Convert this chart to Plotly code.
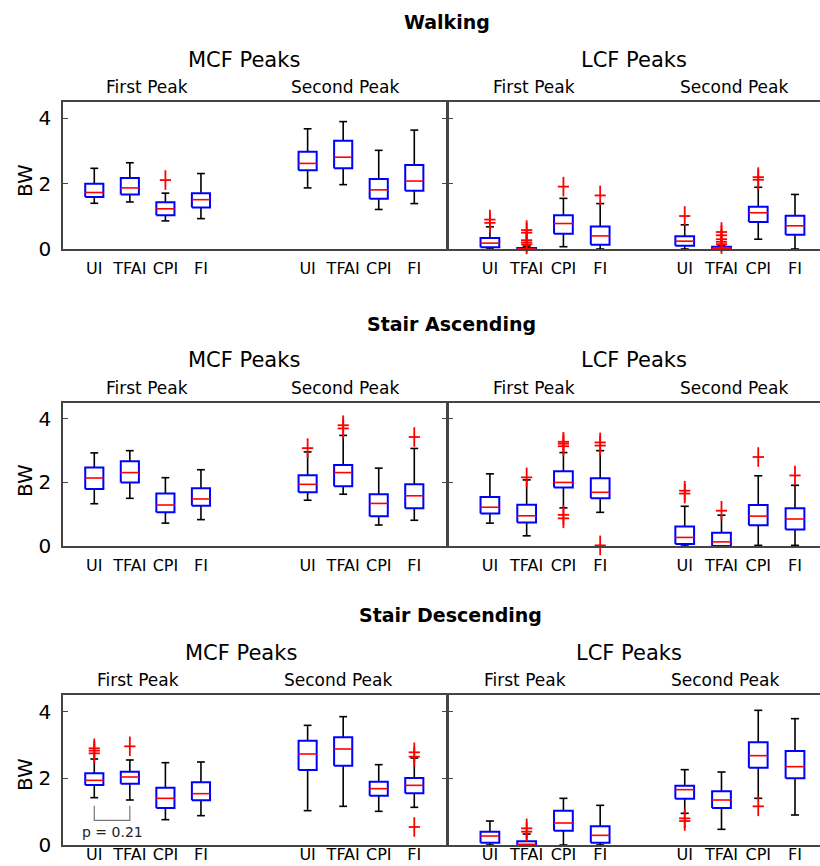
import plotly.graph_objects as go

CATEGORIES = ["UI", "TFAI", "CPI", "FI"]
Y_TICKS = [0, 2, 4]
ACTIVITIES = ["Walking", "Stair Ascending", "Stair Descending"]
FORCES = ["MCF Peaks", "LCF Peaks"]
PEAKS = ["First Peak", "Second Peak"]

# per category (UI, TFAI, CPI, FI): [lower whisker, Q1, median, Q3, upper whisker]  (BW)
walking_mcf_first = [[1.40, 1.59, 1.73, 2.00, 2.47], [1.44, 1.67, 1.87, 2.17, 2.64],
                     [0.86, 1.03, 1.23, 1.43, 1.71], [0.93, 1.27, 1.51, 1.71, 2.31]]
walking_mcf_first_out = [[], [], [2.11], []]
walking_mcf_second = [[1.87, 2.41, 2.62, 2.98, 3.68], [1.97, 2.47, 2.81, 3.31, 3.90],
                      [1.21, 1.54, 1.81, 2.14, 3.02], [1.39, 1.78, 2.08, 2.57, 3.64]]
walking_mcf_second_out = [[], [], [], []]
walking_lcf_first = [[0.00, 0.05, 0.18, 0.34, 0.68], [0.00, 0.00, 0.01, 0.03, 0.09],
                     [0.07, 0.47, 0.78, 1.03, 1.55], [0.00, 0.13, 0.40, 0.69, 1.39]]
walking_lcf_first_out = [[0.80, 0.90], [0.14, 0.20, 0.27, 0.50, 0.58], [1.91], [1.64]]
walking_lcf_second = [[0.00, 0.10, 0.24, 0.39, 0.74], [0.00, 0.00, 0.02, 0.07, 0.11],
                      [0.30, 0.83, 1.11, 1.29, 1.89], [0.00, 0.44, 0.71, 1.02, 1.67]]
walking_lcf_second_out = [[1.01], [0.15, 0.22, 0.30, 0.42, 0.52], [2.12, 2.20], []]

ascending_mcf_first = [[1.33, 1.79, 2.14, 2.47, 2.93], [1.50, 2.00, 2.31, 2.67, 3.00],
                       [0.72, 1.06, 1.29, 1.65, 2.15], [0.83, 1.27, 1.48, 1.82, 2.40]]
ascending_mcf_first_out = [[], [], [], []]
ascending_mcf_second = [[1.44, 1.69, 1.94, 2.23, 2.96], [1.63, 1.88, 2.31, 2.55, 3.48],
                        [0.66, 0.94, 1.34, 1.63, 2.45], [0.81, 1.19, 1.58, 1.94, 3.07]]
ascending_mcf_second_out = [[3.08], [3.70, 3.80], [], [3.43]]
ascending_lcf_first = [[0.72, 1.02, 1.22, 1.54, 2.27], [0.32, 0.74, 0.95, 1.30, 2.08],
                       [1.20, 1.84, 2.00, 2.35, 2.94], [1.06, 1.50, 1.69, 2.13, 3.00]]
ascending_lcf_first_out = [[], [2.16], [0.87, 0.98, 3.14, 3.22, 3.28], [0.02, 3.16, 3.26]]
ascending_lcf_second = [[0.00, 0.06, 0.27, 0.61, 1.25], [0.00, 0.00, 0.13, 0.42, 0.97],
                        [0.02, 0.65, 0.94, 1.29, 2.21], [0.02, 0.52, 0.85, 1.19, 1.91]]
ascending_lcf_second_out = [[1.65, 1.74], [1.11], [2.80], [2.22]]

descending_mcf_first = [[1.42, 1.80, 1.94, 2.15, 2.58], [1.35, 1.84, 2.04, 2.20, 2.55],
                        [0.76, 1.11, 1.40, 1.72, 2.47], [0.88, 1.34, 1.54, 1.88, 2.49]]
descending_mcf_first_out = [[2.75, 2.83, 2.90], [2.96], [], []]
descending_mcf_second = [[1.03, 2.25, 2.73, 3.13, 3.59], [1.16, 2.38, 2.88, 3.23, 3.85],
                         [1.01, 1.48, 1.69, 1.90, 2.41], [1.13, 1.55, 1.79, 2.01, 2.61]]
descending_mcf_second_out = [[], [], [], [0.54, 2.65, 2.78]]
descending_lcf_first = [[0.00, 0.07, 0.27, 0.40, 0.72], [0.00, 0.00, 0.02, 0.11, 0.33],
                        [0.00, 0.43, 0.66, 1.03, 1.40], [0.00, 0.07, 0.29, 0.56, 1.19]]
descending_lcf_first_out = [[], [0.40, 0.50], [], []]
descending_lcf_second = [[0.95, 1.39, 1.66, 1.78, 2.26], [0.47, 1.11, 1.35, 1.61, 2.19],
                         [1.40, 2.32, 2.68, 3.08, 4.04], [0.90, 2.00, 2.35, 2.82, 3.79]]
descending_lcf_second_out = [[0.72, 0.80], [], [1.16], []]

P_TEXT = "p = 0.21"
BRACKET_Y = [1.18, 0.74]

PANELS = [
    (0, 0, [walking_mcf_first, walking_mcf_second], [walking_mcf_first_out, walking_mcf_second_out]),
    (0, 1, [walking_lcf_first, walking_lcf_second], [walking_lcf_first_out, walking_lcf_second_out]),
    (1, 0, [ascending_mcf_first, ascending_mcf_second], [ascending_mcf_first_out, ascending_mcf_second_out]),
    (1, 1, [ascending_lcf_first, ascending_lcf_second], [ascending_lcf_first_out, ascending_lcf_second_out]),
    (2, 0, [descending_mcf_first, descending_mcf_second], [descending_mcf_first_out, descending_mcf_second_out]),
    (2, 1, [descending_lcf_first, descending_lcf_second], [descending_lcf_first_out, descending_lcf_second_out]),
]

# ---------------- layout / style ----------------
W, H = 820, 866
FONT = "DejaVu Sans"
ROW_PX = [(102, 249), (403, 546), (695, 845)]
ROW_LABEL_STANDOFF = [4, 4, -6]
COL_PX = [(63, 447), (448, 820)]
X_RANGES = [[0.12, 10.92], [-0.14, 9.98]]
GROUP_START = [[1, 7], [1, 6.3]]
HW, CAP = 0.255, 0.11
FRAME = "#444444"
BLUE, RED = "#0000FF", "#FF0000"

fig = go.Figure()


def ax_names(idx):
    return ("x" if idx == 1 else f"x{idx}"), ("y" if idx == 1 else f"y{idx}")


for n, (r, c, groups, outs) in enumerate(PANELS):
    idx = n + 1
    xa, ya = ax_names(idx)
    wx, wy, bx, by, mx, my, ox, oy, tv, tt = [], [], [], [], [], [], [], [], [], []
    for g in range(2):
        for i, (s, o) in enumerate(zip(groups[g], outs[g])):
            x = GROUP_START[c][g] + i
            lo, q1, med, q3, hi = s
            wx += [x, x, None, x, x, None, x - CAP, x + CAP, None, x - CAP, x + CAP, None]
            wy += [q3, hi, None, q1, lo, None, hi, hi, None, lo, lo, None]
            bx += [x - HW, x + HW, x + HW, x - HW, x - HW, None]
            by += [q1, q1, q3, q3, q1, None]
            mx += [x - HW, x + HW, None]
            my += [med, med, None]
            ox += [x] * len(o)
            oy += list(o)
            tv.append(x)
            tt.append(CATEGORIES[i])
    common = dict(xaxis=xa, yaxis=ya, showlegend=False, hoverinfo="skip")
    fig.add_trace(go.Scatter(x=wx, y=wy, mode="lines", line=dict(color="black", width=1.6), **common))
    fig.add_trace(go.Scatter(x=bx, y=by, mode="lines", line=dict(color=BLUE, width=2), **common))
    fig.add_trace(go.Scatter(x=mx, y=my, mode="lines", line=dict(color=RED, width=1.6), **common))
    fig.add_trace(go.Scatter(x=ox, y=oy, mode="markers", cliponaxis=False,
                             marker=dict(symbol="line-ns", size=14, line=dict(color=RED, width=1.8)), **common))
    fig.add_trace(go.Scatter(x=ox, y=oy, mode="markers", cliponaxis=False,
                             marker=dict(symbol="line-ew", size=8, line=dict(color=RED, width=1.8)), **common))

    top, bot = ROW_PX[r]
    left, right = COL_PX[c]
    xkey = "xaxis" if idx == 1 else f"xaxis{idx}"
    ykey = "yaxis" if idx == 1 else f"yaxis{idx}"
    fig.layout[xkey] = dict(domain=[left / W, right / W], range=X_RANGES[c], anchor=ya,
                            tickmode="array", tickvals=tv, ticktext=tt, ticks="",
                            showline=True, mirror=True, linecolor=FRAME, linewidth=1.5,
                            showgrid=False, zeroline=False, ticklabelstandoff=ROW_LABEL_STANDOFF[r],
                            automargin=False,
                            tickfont=dict(family=FONT, size=16, color="black"))
    fig.layout[ykey] = dict(domain=[1 - bot / H, 1 - top / H], range=[0, 4.5], anchor=xa,
                            tickmode="array", tickvals=Y_TICKS, ticks="inside", ticklen=5,
                            tickcolor=FRAME, tickwidth=1.2, automargin=False,
                            showline=True, mirror="ticks" if c == 0 else False,
                            linecolor=FRAME, linewidth=1.5, showgrid=False, zeroline=False,
                            showticklabels=(c == 0), ticklabelstandoff=6,
                            tickfont=dict(family=FONT, size=20, color="black"))

# p-value bracket on descending MCF first peak (UI vs TFAI)
xa5, ya5 = ax_names(5)
ui_x, tfai_x = GROUP_START[0][0] + 0, GROUP_START[0][0] + 1
fig.add_trace(go.Scatter(x=[ui_x, ui_x, tfai_x, tfai_x],
                         y=[BRACKET_Y[0], BRACKET_Y[1], BRACKET_Y[1], BRACKET_Y[0]],
                         mode="lines", line=dict(color="#777777", width=1.2),
                         xaxis=xa5, yaxis=ya5, showlegend=False, hoverinfo="skip"))

ann = []
ann.append(dict(x=(ui_x + tfai_x) / 2, y=0.40, xref=xa5, yref=ya5, text=P_TEXT, showarrow=False,
                xanchor="center", yanchor="middle",
                font=dict(family=FONT, size=14, color="#222222")))

TITLE_Y = [22, 324, 615]
FORCE_Y = [60, 360, 653]
PEAK_Y = [87, 388, 680]
TITLE_X = [447, 451, 450]
FORCE_X = [[244, 634], [244, 634], [241, 629]]
PEAK_X = [[[147, 345], [534, 734]], [[147, 345], [534, 734]], [[138, 338], [525, 725]]]
BW_Y = [181, 481, 775]

for r in range(3):
    ann.append(dict(x=TITLE_X[r] / W, y=1 - TITLE_Y[r] / H, xref="paper", yref="paper",
                    text=f"<b>{ACTIVITIES[r]}</b>", showarrow=False, xanchor="center", yanchor="middle",
                    font=dict(family=FONT, size=19, color="black")))
    for c in range(2):
        ann.append(dict(x=FORCE_X[r][c] / W, y=1 - FORCE_Y[r] / H, xref="paper", yref="paper",
                        text=FORCES[c], showarrow=False, xanchor="center", yanchor="middle",
                        font=dict(family=FONT, size=21, color="black")))
        for p in range(2):
            ann.append(dict(x=PEAK_X[r][c][p] / W, y=1 - PEAK_Y[r] / H, xref="paper", yref="paper",
                            text=PEAKS[p], showarrow=False, xanchor="center", yanchor="middle",
                            font=dict(family=FONT, size=17, color="black")))
    ann.append(dict(x=25 / W, y=1 - BW_Y[r] / H, xref="paper", yref="paper", text="BW",
                    textangle=-90, showarrow=False, xanchor="center", yanchor="middle",
                    font=dict(family=FONT, size=20, color="black")))

fig.update_layout(width=W, height=H, margin=dict(l=0, r=0, t=0, b=0, autoexpand=False),
                  paper_bgcolor="white", plot_bgcolor="white", annotations=ann,
                  font=dict(family=FONT))

fig.write_html("out.html", config={"displayModeBar": False},
               post_script="document.body.style.margin='0';document.body.style.overflow='hidden';")
